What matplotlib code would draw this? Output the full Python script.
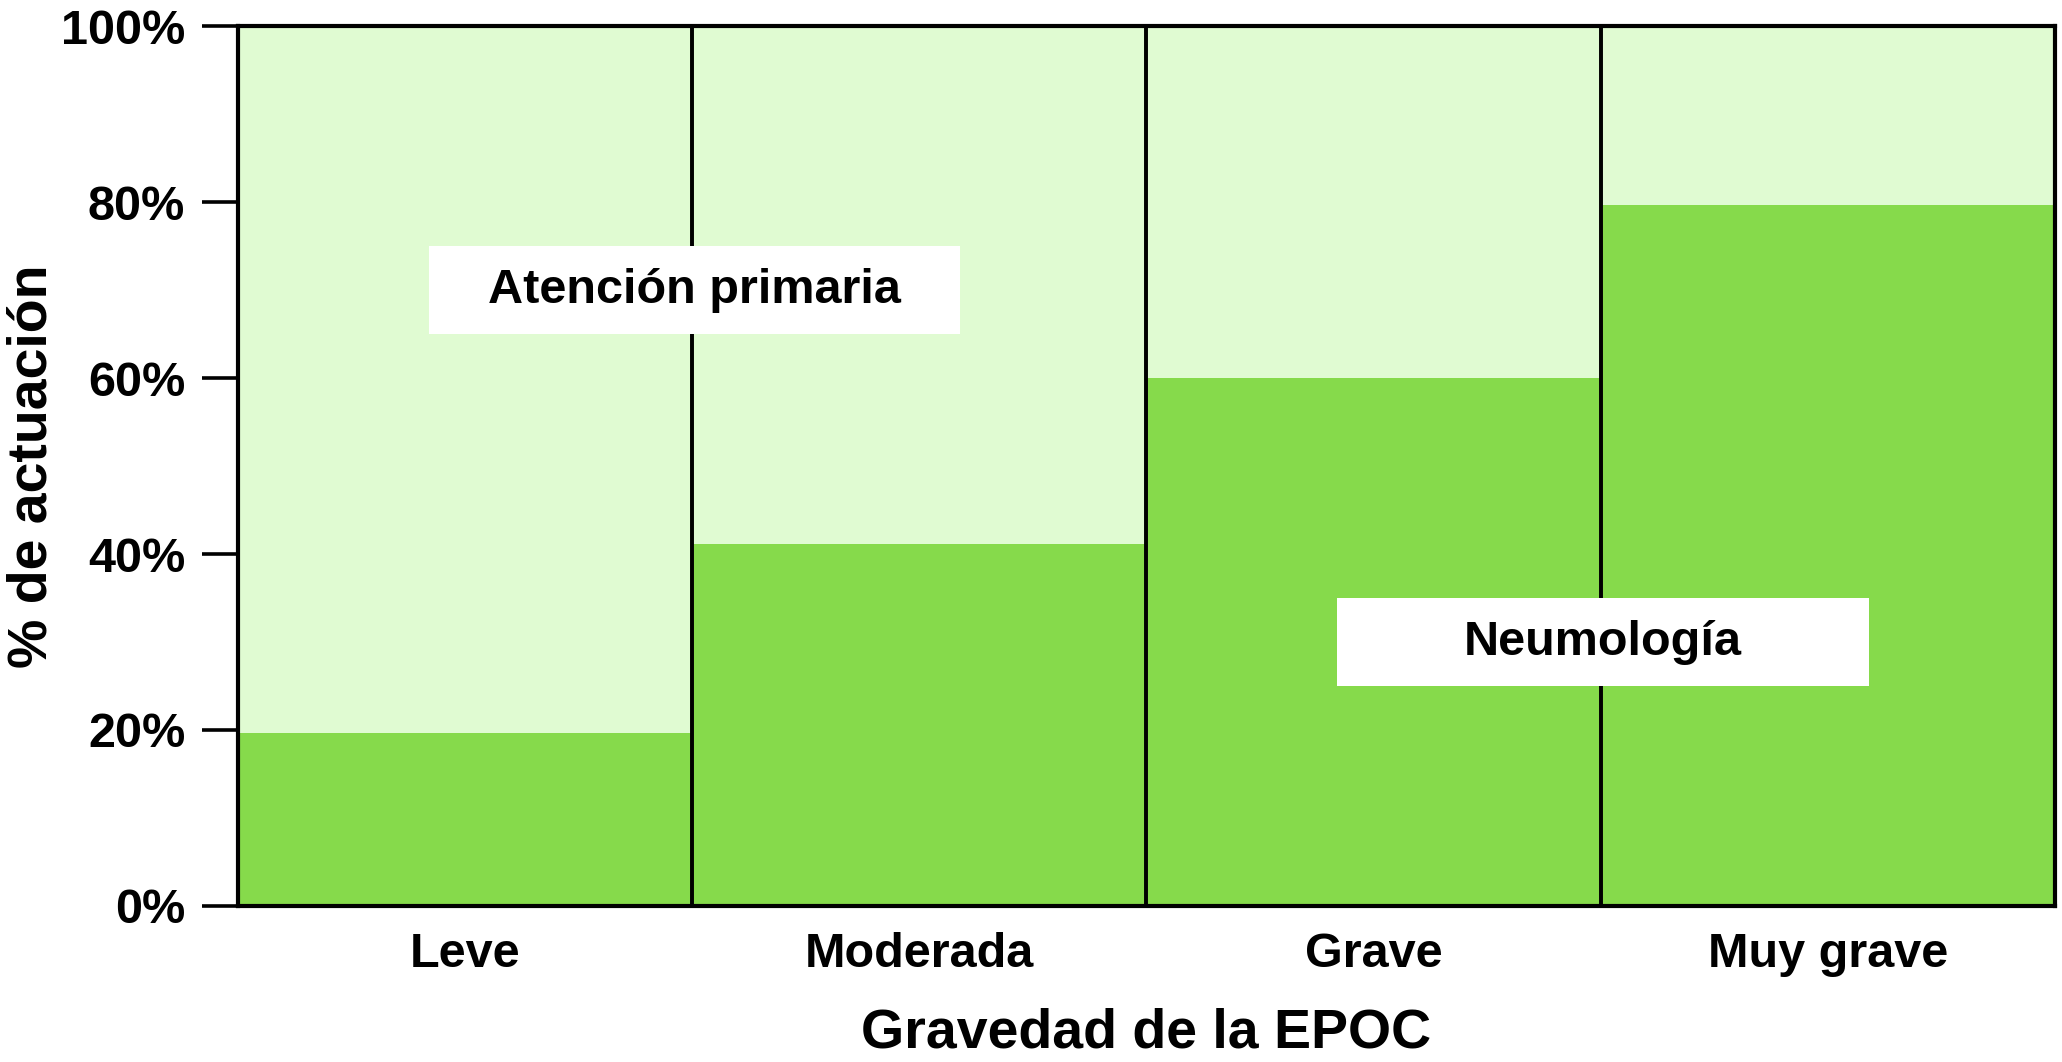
import matplotlib
matplotlib.use('Agg')
import matplotlib.pyplot as plt
from matplotlib.patches import Rectangle
import numpy as np

plt.rcParams['font.family'] = ['Liberation Sans', 'DejaVu Sans']
plt.rcParams['font.weight'] = 'bold'

# data
categories = ['Leve', 'Moderada', 'Grave', 'Muy grave']
neumologia = [19.7, 41.1, 60.0, 79.7]
atencion_primaria = [100 - v for v in neumologia]
yticks = [0, 20, 40, 60, 80, 100]
ytick_labels = ['0%', '20%', '40%', '60%', '80%', '100%']

dark = '#86da4b'
light = '#e0fbd2'

fig = plt.figure(figsize=(20.62, 10.62), dpi=100)
ax = fig.add_axes([0.1154, 0.1469, 0.9966 - 0.1154, 0.9755 - 0.1469])

x = np.arange(len(categories))
ax.bar(x, neumologia, width=1.0, color=dark, zorder=1)
ax.bar(x, atencion_primaria, width=1.0, bottom=neumologia, color=light, zorder=1)
# column outlines
ax.bar(x, 100, width=1.0, fill=False, edgecolor='black', linewidth=2.6, zorder=2)

ax.set_xlim(-0.5, len(categories) - 0.5)
ax.set_ylim(0, 100)

# label boxes
def label_box(xc, yc, text):
    ax.add_patch(Rectangle((xc - 0.585, yc - 5), 1.17, 10, facecolor='white',
                           edgecolor='none', zorder=3))
    ax.text(xc, yc, text, ha='center', va='center', fontsize=35,
            fontweight='bold', zorder=4)

label_box(0.505, 70, 'Atención primaria')
label_box(2.505, 30, 'Neumología')

ax.set_xticks(x)
ax.set_xticklabels(categories, fontsize=35, fontweight='bold')
ax.tick_params(axis='x', length=0, pad=19)
ax.set_yticks(yticks)
ax.set_yticklabels(ytick_labels, fontsize=35, fontweight='bold')
ax.tick_params(axis='y', length=26, width=2.6, pad=12)

for s in ax.spines.values():
    s.set_linewidth(3.0)

ax.set_xlabel('Gravedad de la EPOC', fontsize=40, fontweight='bold', labelpad=22)
ax.set_ylabel('% de actuación', fontsize=40, fontweight='bold')
ax.yaxis.set_label_coords(-0.0985, 0.5)

fig.savefig('out.png', dpi=100)
